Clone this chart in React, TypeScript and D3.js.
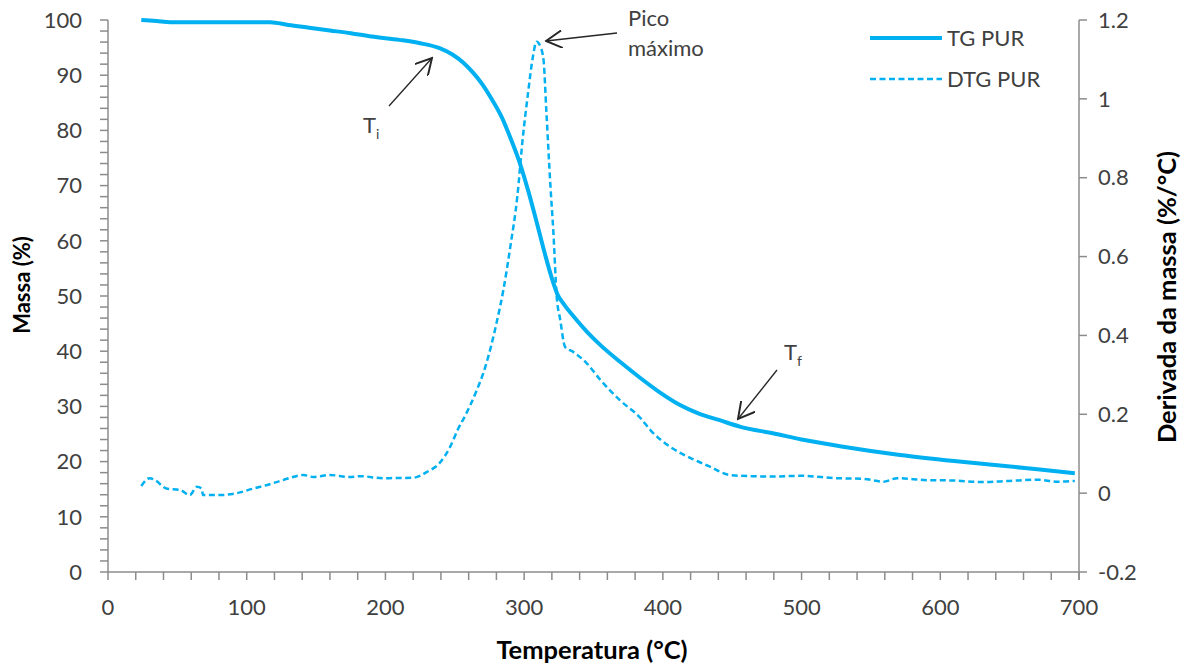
import React from "react";
import * as d3 from "d3";

// Temperature (°C) and mass (%) for the TG curve
const tgTemp = [24, 35, 45, 60, 80, 100, 117, 130, 145, 160, 175, 190, 210, 225, 239, 248, 256, 263, 270, 277, 284, 290, 297, 303, 309, 315, 320, 324, 329, 336, 345, 355, 370, 384, 398, 412, 426, 441, 456, 480, 500, 530, 571, 610, 643, 670, 697];
const tgMass = [100, 99.8, 99.6, 99.6, 99.6, 99.6, 99.6, 99.1, 98.6, 98.1, 97.6, 97.0, 96.4, 95.8, 94.9, 93.8, 92.3, 90.5, 88.3, 85.5, 82.3, 78.7, 74.0, 69.0, 63.4, 57.6, 53.2, 50.3, 48.4, 46.2, 43.6, 41.1, 37.9, 35.1, 32.5, 30.3, 28.7, 27.5, 26.3, 25.1, 24.0, 22.7, 21.2, 20.1, 19.3, 18.6, 17.9];

// Temperature (°C) and mass derivative (%/°C) for the DTG curve
const dtgTemp = [24, 30, 34, 42, 52, 59, 64, 67.5, 68.5, 80, 93, 105, 114, 126, 141, 148, 160, 174, 182, 198, 220, 230, 239, 247, 252, 258, 265, 272, 280, 285, 290, 295, 299, 303, 306, 309, 312, 314, 316, 319, 321, 323.5, 326, 329.5, 335, 345, 355, 369, 384, 391, 405, 420, 434, 448, 463, 480, 499, 525, 545, 559, 569, 590, 610, 630, 650, 670, 685, 697];
const dtgRate = [0.018, 0.038, 0.033, 0.012, 0.008, -0.005, 0.016, 0.012, -0.005, -0.005, 0.0, 0.012, 0.02, 0.033, 0.046, 0.041, 0.046, 0.041, 0.043, 0.038, 0.039, 0.054, 0.076, 0.12, 0.16, 0.2, 0.254, 0.32, 0.43, 0.515, 0.624, 0.75, 0.9, 1.02, 1.1, 1.145, 1.13, 1.098, 0.97, 0.776, 0.667, 0.498, 0.44, 0.371, 0.359, 0.33, 0.287, 0.236, 0.19, 0.16, 0.118, 0.089, 0.067, 0.046, 0.043, 0.042, 0.044, 0.038, 0.036, 0.029, 0.038, 0.033, 0.032, 0.028, 0.031, 0.034, 0.029, 0.031];

const xTicks = [0, 100, 200, 300, 400, 500, 600, 700];
const yLeftTicks = [0, 10, 20, 30, 40, 50, 60, 70, 80, 90, 100];
const yRightTicks = [-0.2, 0, 0.2, 0.4, 0.6, 0.8, 1, 1.2];
const yRightLabels = ["-0.2", "0", "0.2", "0.4", "0.6", "0.8", "1", "1.2"];

const seriesNames = ["TG PUR", "DTG PUR"];

const W = 1189;
const H = 666;
const LEFT = 108;
const RIGHT = 1079;
const TOP = 20;
const BOTTOM = 572;

const BLUE = "#00B0F0";
const AXIS = "#8c8c8c";
const TEXT = "#404040";
const FONT = "Lato, 'Open Sans', sans-serif";

export default function App() {
  const x = d3.scaleLinear().domain([0, 700]).range([LEFT, RIGHT]);
  const yL = d3.scaleLinear().domain([0, 100]).range([BOTTOM, TOP]);
  const yR = d3.scaleLinear().domain([-0.2, 1.2]).range([BOTTOM, TOP]);

  const tgLine = d3
    .line<number>()
    .x((_, i) => x(tgTemp[i]))
    .y((d) => yL(d))
    .curve(d3.curveMonotoneX);
  const dtgLine = d3
    .line<number>()
    .x((_, i) => x(dtgTemp[i]))
    .y((d) => yR(d))
    .curve(d3.curveMonotoneX);

  const xMinor = d3.range(0, 701, 20);
  const yMinor = d3.range(0, 101, 2);

  const arrows = [
    { x1: 389, y1: 106, x2: 432, y2: 58 },
    { x1: 617, y1: 33, x2: 546, y2: 41 },
    { x1: 777, y1: 370, x2: 738, y2: 419 },
  ];

  return (
    <svg width={W} height={H} style={{ position: "absolute", left: 0, top: 0, background: "#fff" }} fontFamily={FONT}>
      <defs>
        <marker id="head" viewBox="0 0 12 12" refX="11" refY="6" markerWidth="18" markerHeight="18" markerUnits="userSpaceOnUse" orient="auto">
          <path d="M0,0 L11,6 L0,12" fill="none" stroke="#262626" strokeWidth={1.3} />
        </marker>
      </defs>

      {/* left axis */}
      <line x1={LEFT} x2={LEFT} y1={TOP} y2={BOTTOM} stroke={AXIS} strokeWidth={1.5} />
      {yMinor.map((v) => (
        <line key={"ym" + v} x1={LEFT - 8} x2={LEFT} y1={yL(v)} y2={yL(v)} stroke={AXIS} strokeWidth={1.5} />
      ))}
      {yLeftTicks.map((v) => (
        <text key={"yl" + v} x={LEFT - 26} y={yL(v)} dy="0.35em" textAnchor="end" fontSize={22} fill={TEXT}>
          {v}
        </text>
      ))}

      {/* bottom axis */}
      <line x1={LEFT} x2={RIGHT} y1={BOTTOM} y2={BOTTOM} stroke={AXIS} strokeWidth={1.5} />
      {xMinor.map((v) => (
        <line key={"xm" + v} x1={x(v)} x2={x(v)} y1={BOTTOM} y2={BOTTOM + 8} stroke={AXIS} strokeWidth={1.5} />
      ))}
      {xTicks.map((v) => (
        <text key={"xt" + v} x={x(v)} y={607} dy="0.35em" textAnchor="middle" fontSize={22} fill={TEXT}>
          {v}
        </text>
      ))}

      {/* right axis */}
      <line x1={RIGHT} x2={RIGHT} y1={TOP} y2={BOTTOM + 8} stroke={AXIS} strokeWidth={1.5} />
      {yRightTicks.map((v, i) => (
        <g key={"yr" + v}>
          <line x1={RIGHT} x2={RIGHT + 8} y1={yR(v)} y2={yR(v)} stroke={AXIS} strokeWidth={1.5} />
          <text x={RIGHT + 19} y={yR(v)} dy="0.35em" textAnchor="start" fontSize={22} fill={TEXT}>
            {yRightLabels[i]}
          </text>
        </g>
      ))}

      {/* axis titles */}
      <text x={592} y={650} dy="0.35em" textAnchor="middle" fontSize={25.5} fontWeight="bold" fill="#000">
        Temperatura (°C)
      </text>
      <text transform="translate(22,285) rotate(-90)" dy="0.35em" textAnchor="middle" fontSize={22} fontWeight="bold" fill="#000">
        Massa (%)
      </text>
      <text transform="translate(1167,297) rotate(-90)" dy="0.35em" textAnchor="middle" fontSize={25.5} fontWeight="bold" fill="#000">
        Derivada da massa (%/°C)
      </text>

      {/* series */}
      <path d={dtgLine(dtgRate) || ""} fill="none" stroke={BLUE} strokeWidth={2.5} strokeDasharray="6 3.5" />
      <path d={tgLine(tgMass) || ""} fill="none" stroke={BLUE} strokeWidth={4} strokeLinejoin="round" />

      {/* annotations */}
      {arrows.map((a, i) => (
        <line key={"ar" + i} x1={a.x1} y1={a.y1} x2={a.x2} y2={a.y2} stroke="#262626" strokeWidth={1.3} markerEnd="url(#head)" />
      ))}
      <text x={363} y={125} dy="0.35em" fontSize={22} fill={TEXT}>
        T<tspan fontSize={14} dy="6">i</tspan>
      </text>
      <text x={628} y={18} dy="0.35em" fontSize={22} fill={TEXT}>
        Pico
      </text>
      <text x={628} y={48} dy="0.35em" fontSize={22} fill={TEXT}>
        máximo
      </text>
      <text x={784} y={352} dy="0.35em" fontSize={22} fill={TEXT}>
        T<tspan fontSize={14} dy="6">f</tspan>
      </text>

      {/* legend */}
      <line x1={870} x2={942} y1={38} y2={38} stroke={BLUE} strokeWidth={4} />
      <text x={947} y={38} dy="0.35em" fontSize={22} fill={TEXT}>
        {seriesNames[0]}
      </text>
      <line x1={870} x2={942} y1={79} y2={79} stroke={BLUE} strokeWidth={2.5} strokeDasharray="6 3.5" />
      <text x={947} y={79} dy="0.35em" fontSize={22} fill={TEXT}>
        {seriesNames[1]}
      </text>
    </svg>
  );
}
